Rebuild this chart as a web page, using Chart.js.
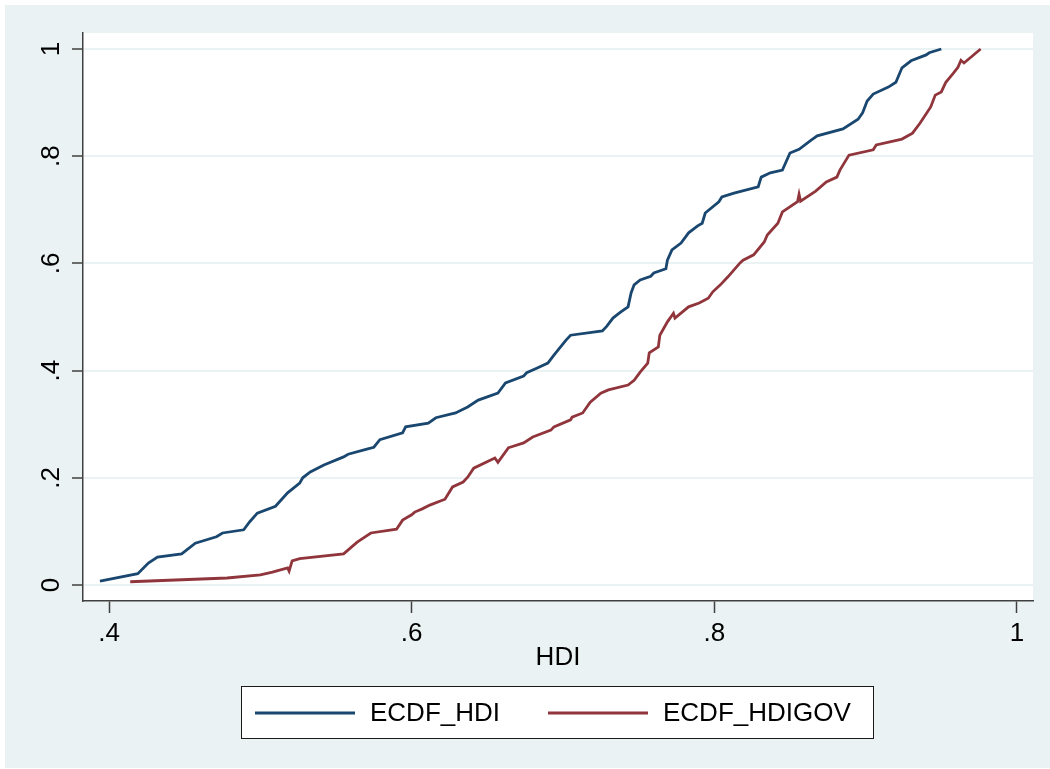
<!DOCTYPE html>
<html>
<head>
<meta charset="utf-8">
<script src="https://cdn.jsdelivr.net/npm/chart.js@4/dist/chart.umd.min.js"></script>
<style>
    html, body { margin: 0; padding: 0; background: #ffffff; }
    #wrap { width: 1050px; height: 769px; }
</style>
</head>
<body>
<div id="wrap"><canvas id="ecdfChart" width="1050" height="769"></canvas></div>
<script>
// 讀圖估計的 ECDF 折點
const hdiX = [0.394, 0.419, 0.426, 0.432, 0.448, 0.457, 0.471, 0.475, 0.489, 0.493, 0.498, 0.510, 0.518, 0.526, 0.528, 0.533, 0.542, 0.555, 0.558, 0.571,
    0.575, 0.579, 0.594, 0.596, 0.611, 0.616, 0.629, 0.637, 0.644, 0.657, 0.662, 0.674, 0.676, 0.683, 0.690, 0.694, 0.702, 0.705, 0.726, 0.729,
    0.733, 0.738, 0.743, 0.745, 0.747, 0.751, 0.758, 0.760, 0.768, 0.769, 0.772, 0.778, 0.783, 0.789, 0.792, 0.794, 0.803, 0.805, 0.813, 0.829,
    0.831, 0.837, 0.845, 0.850, 0.856, 0.864, 0.868, 0.885, 0.895, 0.898, 0.901, 0.905, 0.915, 0.920, 0.924, 0.930, 0.940, 0.942, 0.950];
const hdiY = [0.007, 0.021, 0.041, 0.052, 0.058, 0.078, 0.090, 0.097, 0.103, 0.118, 0.134, 0.147, 0.172, 0.190, 0.200, 0.211, 0.224, 0.239, 0.244, 0.254,
    0.257, 0.271, 0.284, 0.295, 0.302, 0.312, 0.321, 0.332, 0.345, 0.358, 0.377, 0.390, 0.396, 0.405, 0.414, 0.429, 0.457, 0.466, 0.474, 0.483,
    0.498, 0.509, 0.519, 0.545, 0.560, 0.569, 0.576, 0.582, 0.590, 0.606, 0.625, 0.638, 0.657, 0.670, 0.675, 0.694, 0.715, 0.724, 0.731, 0.743,
    0.761, 0.769, 0.774, 0.806, 0.813, 0.830, 0.838, 0.851, 0.869, 0.881, 0.903, 0.916, 0.929, 0.938, 0.965, 0.978, 0.989, 0.993, 1.0];

const govX = [0.414, 0.478, 0.500, 0.508, 0.518, 0.519, 0.521, 0.526, 0.555, 0.564, 0.573, 0.590, 0.594, 0.600, 0.602, 0.607, 0.612, 0.622, 0.627, 0.634,
    0.637, 0.641, 0.655, 0.657, 0.664, 0.665, 0.674, 0.680, 0.692, 0.694, 0.705, 0.706, 0.713, 0.718, 0.725, 0.730, 0.743, 0.747, 0.751, 0.756,
    0.757, 0.763, 0.764, 0.769, 0.773, 0.774, 0.783, 0.790, 0.796, 0.799, 0.804, 0.809, 0.817, 0.819, 0.826, 0.833, 0.835, 0.842, 0.845, 0.855,
    0.856, 0.857, 0.867, 0.874, 0.881, 0.883, 0.889, 0.905, 0.907, 0.924, 0.931, 0.936, 0.943, 0.946, 0.950, 0.953, 0.958, 0.961, 0.963, 0.965, 0.976];
const govY = [0.006, 0.013, 0.019, 0.024, 0.032, 0.026, 0.045, 0.049, 0.058, 0.080, 0.097, 0.104, 0.121, 0.131, 0.136, 0.142, 0.149, 0.160, 0.183, 0.192,
    0.201, 0.218, 0.237, 0.229, 0.256, 0.257, 0.265, 0.276, 0.289, 0.295, 0.308, 0.313, 0.321, 0.341, 0.358, 0.364, 0.373, 0.382, 0.397, 0.414,
    0.433, 0.444, 0.466, 0.491, 0.507, 0.498, 0.519, 0.526, 0.535, 0.547, 0.560, 0.575, 0.601, 0.606, 0.616, 0.640, 0.653, 0.675, 0.696, 0.715,
    0.729, 0.716, 0.735, 0.752, 0.761, 0.774, 0.802, 0.812, 0.821, 0.832, 0.843, 0.862, 0.892, 0.914, 0.920, 0.938, 0.955, 0.966, 0.979, 0.974, 1.0];

const seriesNames = ['ECDF_HDI', 'ECDF_HDIGOV'];
const xTicks = [0.4, 0.6, 0.8, 1];
const yTicks = [0, 0.2, 0.4, 0.6, 0.8, 1];
const xTitle = 'HDI';

const BLUE = '#1a476f';
const RED = '#90353b';
const BG = '#eaf2f3';
const FONT = '"Liberation Sans", Arial, sans-serif';

function fmt(v) {
    if (v === 0) return '0';
    if (v === 1) return '1';
    return String(v).replace(/^0/, '');
}

function zip(xs, ys) {
    return xs.map((x, i) => ({ x: x, y: ys[i] }));
}

// 背景：外框淡藍、繪圖區白色
const backgroundPlugin = {
    id: 'stataBackground',
    beforeDraw(chart) {
        const { ctx, chartArea } = chart;
        ctx.save();
        ctx.fillStyle = '#ffffff';
        ctx.fillRect(0, 0, chart.width, chart.height);
        ctx.fillStyle = BG;
        ctx.fillRect(5, 5, chart.width - 5, chart.height - 6);
        ctx.fillStyle = '#ffffff';
        ctx.fillRect(chartArea.left, chartArea.top, chartArea.right - chartArea.left, chartArea.bottom - chartArea.top);
        ctx.restore();
    }
};

// y 軸旋轉標籤 + 底部圖例
const labelPlugin = {
    id: 'stataLabels',
    afterDraw(chart) {
        const { ctx } = chart;
        const yScale = chart.scales.y;
        ctx.save();
        ctx.fillStyle = '#000000';
        ctx.font = '26px ' + FONT;
        ctx.textAlign = 'center';
        ctx.textBaseline = 'middle';
        yTicks.forEach(v => {
            const py = yScale.getPixelForValue(v);
            ctx.save();
            ctx.translate(52, py);
            ctx.rotate(-Math.PI / 2);
            ctx.fillText(fmt(v), 0, 0);
            ctx.restore();
        });

        // 圖例框
        ctx.fillStyle = '#ffffff';
        ctx.fillRect(241, 686, 632, 52);
        ctx.strokeStyle = '#1a1a1a';
        ctx.lineWidth = 1;
        ctx.strokeRect(241.5, 686.5, 632, 52);

        const items = [
            { x0: 255, tx: 370 },
            { x0: 548, tx: 663 }
        ];
        chart.data.datasets.forEach((ds, i) => {
            const it = items[i];
            ctx.strokeStyle = ds.borderColor;
            ctx.lineWidth = 2.8;
            ctx.beginPath();
            ctx.moveTo(it.x0, 713);
            ctx.lineTo(it.x0 + 100, 713);
            ctx.stroke();
            ctx.fillStyle = '#000000';
            ctx.textAlign = 'left';
            ctx.fillText(ds.label, it.tx, 714);
        });
        ctx.restore();
    }
};

function initChart() {
    const ctx = document.getElementById('ecdfChart');
    if (!ctx) return;

    new Chart(ctx, {
        type: 'scatter',
        data: {
            datasets: [
                {
                    label: seriesNames[0],
                    data: zip(hdiX, hdiY),
                    showLine: true,
                    borderColor: BLUE,
                    backgroundColor: BLUE,
                    borderWidth: 2.8,
                    pointRadius: 0,
                    tension: 0
                },
                {
                    label: seriesNames[1],
                    data: zip(govX, govY),
                    showLine: true,
                    borderColor: RED,
                    backgroundColor: RED,
                    borderWidth: 2.8,
                    pointRadius: 0,
                    tension: 0
                }
            ]
        },
        options: {
            responsive: false,
            animation: false,
            layout: { padding: { top: 33, right: 17, left: 0, bottom: 0 } },
            plugins: {
                legend: { display: false },
                tooltip: { enabled: false }
            },
            scales: {
                x: {
                    type: 'linear',
                    min: 0.3828,
                    max: 1.0106,
                    afterBuildTicks: s => { s.ticks = xTicks.map(v => ({ value: v })); },
                    afterFit: s => { s.height = 168; },
                    grid: {
                        drawOnChartArea: false,
                        drawTicks: true,
                        tickLength: 12,
                        tickColor: '#404040',
                        tickWidth: 1.5
                    },
                    border: { color: '#404040', width: 1.5 },
                    ticks: {
                        color: '#000000',
                        font: { family: FONT, size: 26 },
                        padding: 5,
                        maxRotation: 0,
                        callback: v => fmt(v)
                    },
                    title: {
                        display: true,
                        text: xTitle,
                        color: '#000000',
                        font: { family: FONT, size: 26 },
                        padding: { top: 0, bottom: 96 }
                    }
                },
                y: {
                    type: 'linear',
                    min: -0.0299,
                    max: 1.0299,
                    afterBuildTicks: s => { s.ticks = yTicks.map(v => ({ value: v })); },
                    afterFit: s => { s.width = 83; },
                    grid: {
                        color: BG,
                        lineWidth: 2,
                        drawTicks: true,
                        tickLength: 11,
                        tickColor: '#404040',
                        tickWidth: 1.5
                    },
                    border: { color: '#404040', width: 1.5 },
                    ticks: { display: false }
                }
            }
        },
        plugins: [backgroundPlugin, labelPlugin]
    });
}

document.addEventListener('DOMContentLoaded', () => {
    initChart();
});
</script>
</body>
</html>
